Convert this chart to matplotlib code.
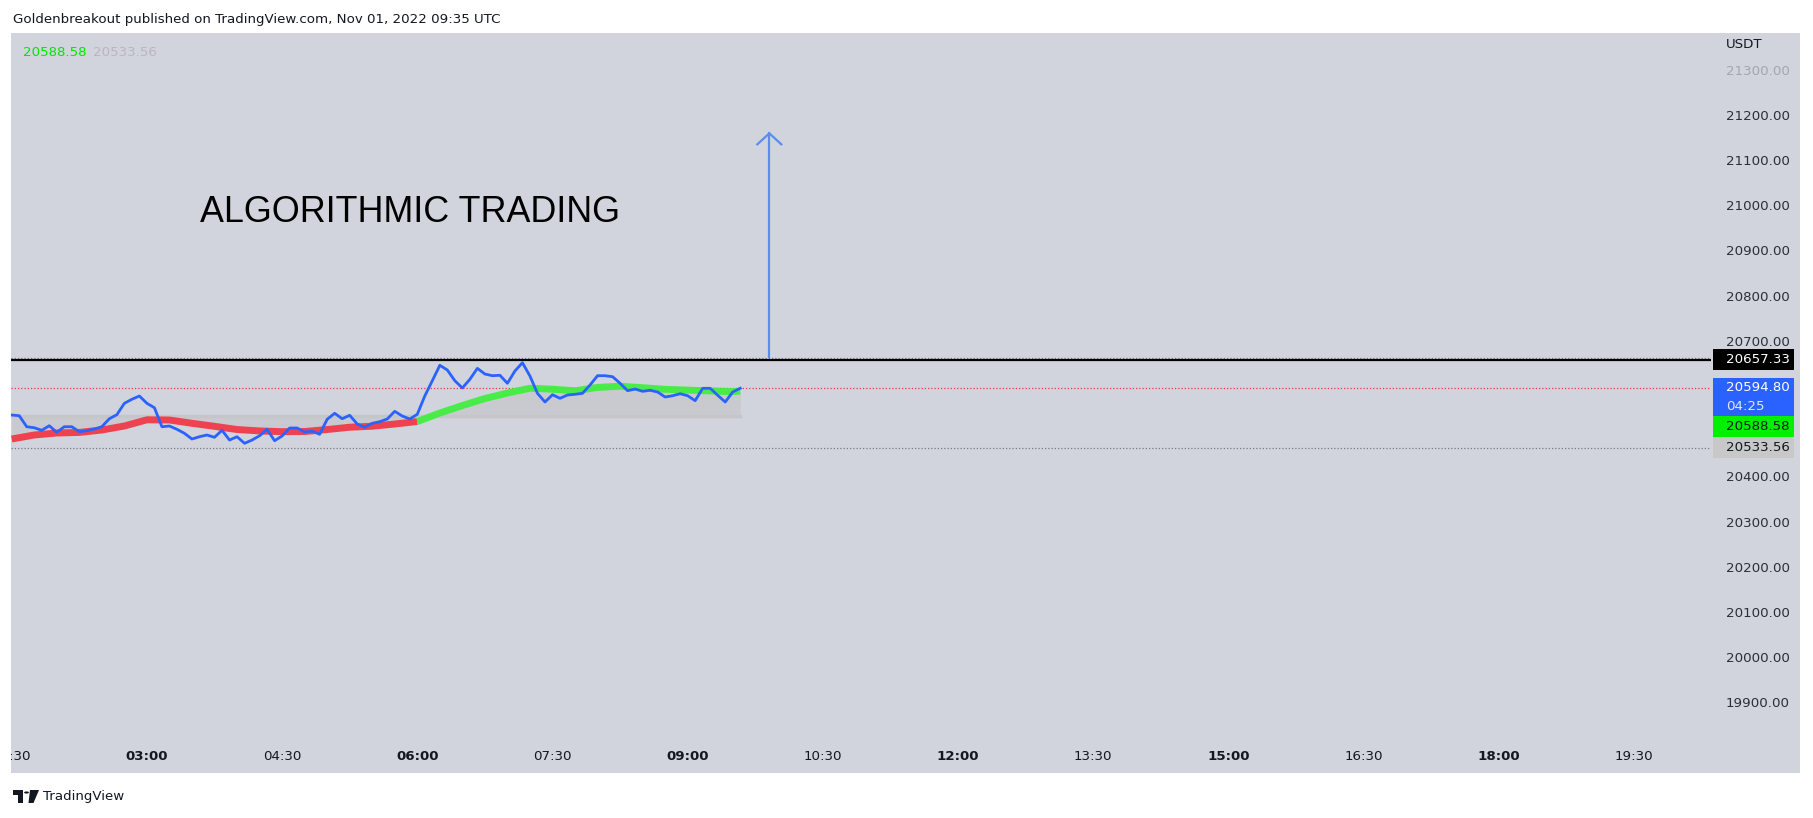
import numpy as np
import pandas as pd
import matplotlib
matplotlib.use("Agg")
import matplotlib.pyplot as plt
from matplotlib import font_manager
from matplotlib.patches import Rectangle, Polygon, Circle

W, H = 1813, 818

# 5-minute closes, BTC/USDT, 01:30 .. 09:35 UTC
price = [20535.6, 20534.1, 20509.7, 20507.5, 20501.8, 20511.9, 20497.3, 20509.7, 20509.7, 20498.7,
         20500.9, 20504.6, 20509.7, 20527.4, 20536.3, 20561.5, 20570.4, 20577.7, 20561.5, 20551.8,
         20509.7, 20511.3, 20504.0, 20495.1, 20482.5, 20487.6, 20491.4, 20486.3, 20501.8, 20480.3,
         20487.6, 20473.0, 20480.3, 20489.8, 20504.0, 20478.8, 20489.2, 20506.9, 20506.9, 20498.0,
         20500.2, 20492.9, 20526.1, 20539.4, 20527.4, 20535.0, 20515.7, 20508.4, 20517.3, 20520.8,
         20526.8, 20543.8, 20533.4, 20526.8, 20537.2, 20577.7, 20611.5, 20645.6, 20635.2, 20611.5,
         20595.4, 20614.6, 20638.9, 20626.3, 20622.6, 20623.5, 20605.8, 20633.0, 20651.3, 20621.9,
         20583.6, 20564.4, 20580.5, 20572.6, 20579.9, 20581.4, 20583.6, 20602.0, 20622.6, 20622.6,
         20620.4, 20605.8, 20589.4, 20593.1, 20588.0, 20590.3, 20586.5, 20575.4, 20578.3, 20582.7,
         20578.3, 20567.3, 20594.7, 20594.7, 20579.2, 20564.4, 20586.5, 20594.8]
price_times = pd.date_range("2022-11-01 01:30", "2022-11-01 09:35", freq="5min")

# moving average, read every 15 minutes (+ last bar)
ma = [20482.5, 20491.4, 20495.8, 20497.1, 20502.4, 20511.3, 20525.0, 20524.6, 20517.3, 20510.6,
      20503.5, 20500.4, 20498.7, 20499.1, 20503.5, 20508.6, 20510.8, 20515.7, 20521.2, 20540.0,
      20556.6, 20572.1, 20584.3, 20594.9, 20592.7, 20589.2, 20596.7, 20599.3, 20596.0, 20592.5,
      20590.7, 20588.9, 20587.4, 20588.58]
ma_times = pd.date_range("2022-11-01 01:30", "2022-11-01 09:30", freq="15min").append(
    pd.DatetimeIndex(["2022-11-01 09:35"]))
ma_turn = 18  # red -> green at 06:00

base_level = 20533.56
hline_level = 20657.33
last_price = 20594.80
ma_last = 20588.58
upper_dots = 20662.0
lower_dots = 20462.6

arrow_time = 9.906
arrow_from, arrow_to, arrow_wing = 20664.6, 21158.8, 21134.5

price_ticks = [21300, 21200, 21100, 21000, 20900, 20800, 20700, 20400, 20300, 20200, 20100, 20000, 19900]
time_ticks = [1.5, 3, 4.5, 6, 7.5, 9, 10.5, 12, 13.5, 15, 16.5, 18, 19.5]
time_labels = ["01:30", "03:00", "04:30", "06:00", "07:30", "09:00", "10:30",
               "12:00", "13:30", "15:00", "16:30", "18:00", "19:30"]


def hours(ts):
    return np.asarray((ts - ts.normalize()).total_seconds() / 3600.0)


def fr(x, y):
    return x / W, 1 - y / H


names = {f.name for f in font_manager.fontManager.ttflist}
if "Liberation Sans Narrow" in names:
    title_font, title_size = "Liberation Sans Narrow", 31
elif "DejaVu Sans Condensed" in names:
    title_font, title_size = "DejaVu Sans Condensed", 28
else:
    title_font, title_size = "Liberation Sans", 25.8

plt.rcParams["font.family"] = ["DejaVu Sans"]
TXT = "#131722"
FS = 9.6

fig = plt.figure(figsize=(W / 100, H / 100), dpi=100)
fig.patch.set_facecolor("white")
fig.add_artist(Rectangle(fr(11, 773), (1800 - 11) / W, (773 - 33) / H, transform=fig.transFigure,
                         facecolor="#d1d4dc", edgecolor="none", zorder=0))

ax = fig.add_axes([11 / W, 1 - 740 / H, 1700 / W, 707 / H])
ax.set_facecolor("none")
for s in ax.spines.values():
    s.set_visible(False)
ax.set_xlim(1.4922, 20.354)
ax.set_ylim(19816.6, 21380.8)

tp = hours(price_times)
tm = hours(ma_times)

ax.fill_between(tm, ma, base_level, color="#c9cacf", lw=0, zorder=2)
ax.plot([tm[0], tm[-1]], [base_level, base_level], color="#c5c6ca", lw=2.5, zorder=2)
ax.plot(tm[:ma_turn + 1], ma[:ma_turn + 1], color="#f23645", lw=5, alpha=0.92, zorder=3,
        solid_capstyle="butt")
ax.plot(tm[ma_turn:], ma[ma_turn:], color="#3def3d", lw=5, alpha=0.92, zorder=3,
        solid_capstyle="butt")
ax.plot(tp, price, color="#2962ff", lw=2.0, zorder=5)

ax.axhline(upper_dots, color="#787b86", lw=0.9, ls=(0, (1, 1.6)), zorder=1)
ax.axhline(lower_dots, color="#787b86", lw=0.9, ls=(0, (1, 1.6)), zorder=1)
ax.axhline(last_price, color="#f23645", lw=0.9, ls=(0, (1, 1.6)), zorder=1)
ax.axhline(hline_level, color="black", lw=1.6, zorder=4)

arrow_c = "#5b8cf2"
ax.plot([arrow_time, arrow_time], [arrow_from, arrow_to], color=arrow_c, lw=1.6, zorder=4)
ax.plot([arrow_time - 0.133, arrow_time, arrow_time + 0.133], [arrow_wing, arrow_to, arrow_wing],
        color=arrow_c, lw=1.6, zorder=4)

# price scale
ax.yaxis.tick_right()
ax.set_yticks(price_ticks)
ax.set_yticklabels([f"{v:.2f}" for v in price_ticks])
ax.tick_params(axis="y", length=0, pad=10.8, labelsize=FS, labelcolor="#2a2e39")
ax.get_yticklabels()[0].set_color("#a3a6af")

# time scale
ax.set_xticks(time_ticks)
ax.set_xticklabels(time_labels)
ax.tick_params(axis="x", length=0, pad=7.5, labelsize=FS, labelcolor=TXT)
for lbl, v in zip(ax.get_xticklabels(), time_ticks):
    if v % 3 == 0:
        lbl.set_fontweight("bold")
fig.add_artist(Rectangle(fr(0, 775), 11 / W, 40 / H, transform=fig.transFigure,
                         facecolor="white", edgecolor="none", zorder=10))


# price labels on the scale
def py(p):
    return H - ax.transData.transform((0, p))[1]


def label_box(top, height, color, lines, tcolor):
    fig.add_artist(Rectangle(fr(1713, top + height), 81 / W, height / H, transform=fig.transFigure,
                             facecolor=color, edgecolor="none", zorder=11))
    step = height / len(lines)
    for k, (txt, a) in enumerate(lines):
        fig.text(*fr(1726, top + step * (k + 0.5)), txt, fontsize=FS, color=tcolor, alpha=a,
                 va="center", ha="left", zorder=12)


b_top = py(hline_level) - 10.5
label_box(b_top, 21, "black", [(f"{hline_level:.2f}", 1)], "white")
blue_top = py(last_price) - 10
label_box(blue_top, 38, "#2962ff", [(f"{last_price:.2f}", 1), ("04:25", 0.85)], "white")
g_top = blue_top + 38
label_box(g_top, 21, "#00f000", [(f"{ma_last:.2f}", 1)], TXT)
label_box(g_top + 21, 21, "#c8c8c8", [(f"{base_level:.2f}", 1)], TXT)

fig.text(*fr(1726, 45), "USDT", fontsize=FS, color=TXT, va="center", ha="left")

# header and legend values
fig.text(*fr(13, 20), "Goldenbreakout published on TradingView.com, Nov 01, 2022 09:35 UTC",
         fontsize=9.6, color=TXT, va="center", ha="left")
fig.text(*fr(23, 53), f"{ma_last:.2f}", fontsize=FS, color="#00e600", va="center", ha="left")
fig.text(*fr(93, 53), f"{base_level:.2f}", fontsize=FS, color="#b6b8bd", va="center", ha="left")

fig.text(*fr(200, 212), "ALGORITHMIC TRADING", fontsize=title_size, family=title_font,
         color="black", va="center", ha="left")

# TradingView logo
tf = fig.transFigure
fig.add_artist(Polygon([fr(13, 790), fr(23, 790), fr(23, 803), fr(18, 803), fr(18, 795), fr(13, 795)],
                       closed=True, transform=tf, facecolor=TXT, edgecolor="none"))
fig.add_artist(Circle(fr(26.5, 792.5), 2.4 / W, transform=tf, facecolor=TXT, edgecolor="none"))
fig.add_artist(Polygon([fr(30, 790), fr(39, 790), fr(33.5, 803), fr(28.5, 803)], closed=True,
                       transform=tf, facecolor=TXT, edgecolor="none"))
fig.text(*fr(43, 796.5), "TradingView", fontsize=FS, color=TXT, va="center", ha="left")

fig.savefig("out.png", dpi=100, facecolor="white")
